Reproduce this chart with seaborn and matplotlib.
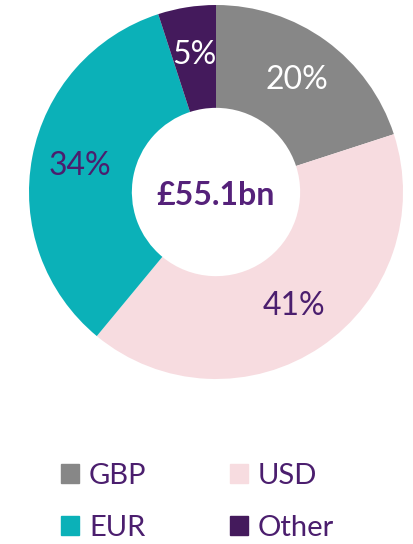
import matplotlib
matplotlib.use("Agg")
import matplotlib.pyplot as plt
import matplotlib.patches as mpatches
import seaborn as sns

currencies = ["GBP", "USD", "EUR", "Other"]
shares = [20, 41, 34, 5]
colors = ["#878787", "#f7dce0", "#0bb1b8", "#441a5c"]
label_colors = ["white", "#4b1e6e", "#4b1e6e", "white"]
total_label = "£55.1bn"

sns.set_theme(style="white")
plt.rcParams["font.family"] = ["Lato", "DejaVu Sans"]
purple = "#4b1e6e"

fig = plt.figure(figsize=(4.14, 5.44), dpi=100)
ax = fig.add_axes([29 / 414, 165 / 544, 374 / 414, 374 / 544])

wedges, texts, autotexts = ax.pie(
    shares, colors=colors, startangle=90, counterclock=False,
    autopct="%d%%", pctdistance=0.74,
    wedgeprops=dict(width=0.55, linewidth=0),
    textprops=dict(fontsize=23),
)
for t, c in zip(autotexts, label_colors):
    t.set_color(c)
ax.text(0, -0.02, total_label, ha="center", va="center", fontsize=23,
        fontweight="bold", color="#55217a")
ax.set_xlim(-1, 1)
ax.set_ylim(-1, 1)
ax.set_aspect("equal")
ax.axis("off")

handles = [mpatches.Patch(color=c, label=l) for c, l in zip(colors, currencies)]
order = [0, 2, 1, 3]
leg = fig.legend([handles[i] for i in order], [currencies[i] for i in order],
                 ncol=2, loc="lower left", bbox_to_anchor=(0.083, -0.042),
                 frameon=False, fontsize=21, handlelength=0.62, handleheight=0.62,
                 handletextpad=0.35, columnspacing=2.85, labelspacing=0.88)
for t in leg.get_texts():
    t.set_color(purple)

fig.savefig("out.png", dpi=100)
